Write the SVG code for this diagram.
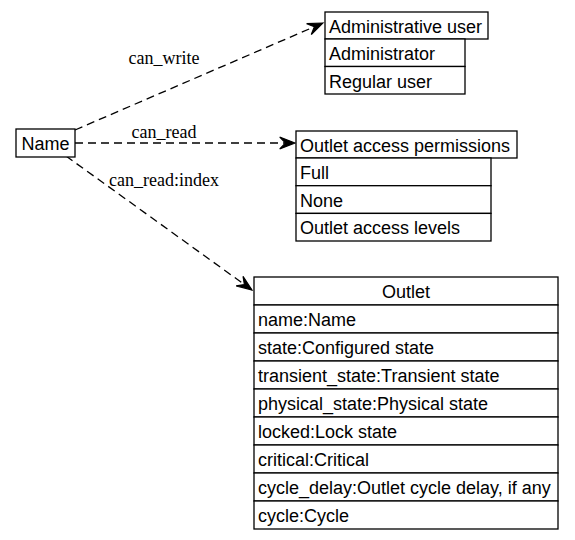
<svg xmlns="http://www.w3.org/2000/svg" width="575" height="540" viewBox="0 0 575 540">
<style>
  .box { fill: #ffffff; stroke: #000000; stroke-width: 1.3; }
  .t { font-family: "Liberation Sans", Arial, sans-serif; font-size: 18px; fill: #000000; }
  .lbl { font-family: "Liberation Serif", "Times New Roman", serif; font-size: 18px; fill: #000000; text-anchor: middle; }
  .edge { fill: none; stroke: #000000; stroke-width: 1.3; stroke-dasharray: 8,5; }
</style>
<defs>
  <marker id="vee" markerUnits="userSpaceOnUse" markerWidth="20" markerHeight="20" viewBox="-15 -8 17 16" refX="0" refY="0" orient="auto">
    <path d="M0,0 L-13,-5 L-8,0 L-13,5 Z" fill="#000000" stroke="#000000" stroke-width="1"/>
  </marker>
</defs>
<rect width="575" height="540" fill="#ffffff"/>

<g id="connectors">
  <g id="edge-can_write">
    <path class="edge" d="M75,130 L323,23" marker-end="url(#vee)"/>
    <text class="lbl" x="164" y="64">can_write</text>
  </g>
  <g id="edge-can_read">
    <path class="edge" d="M75,143 L295,143" marker-end="url(#vee)"/>
    <text class="lbl" x="164" y="138">can_read</text>
  </g>
  <g id="edge-can_read_index">
    <path class="edge" d="M66,156 L252,290" marker-end="url(#vee)"/>
    <text class="lbl" x="164" y="186">can_read:index</text>
  </g>
</g>

<g id="node-name">
  <rect class="box" x="16" y="129" width="59" height="28"/>
  <text class="t" x="45.5" y="150" text-anchor="middle">Name</text>
</g>

<g id="node-admin-user">
  <rect class="box" x="325" y="12" width="163" height="27"/>
  <text class="t" x="329" y="33">Administrative user</text>
  <rect class="box" x="325" y="39" width="140" height="27.5"/>
  <text class="t" x="329" y="60">Administrator</text>
  <rect class="box" x="325" y="66.5" width="140" height="27.5"/>
  <text class="t" x="329" y="88">Regular user</text>
</g>

<g id="node-outlet-access">
  <rect class="box" x="296" y="131" width="221" height="27"/>
  <text class="t" x="300" y="152">Outlet access permissions</text>
  <rect class="box" x="296" y="158" width="195" height="27.7"/>
  <text class="t" x="300" y="179">Full</text>
  <rect class="box" x="296" y="185.7" width="195" height="27.7"/>
  <text class="t" x="300" y="206.5">None</text>
  <rect class="box" x="296" y="213.4" width="195" height="27.6"/>
  <text class="t" x="300" y="234">Outlet access levels</text>
</g>

<g id="node-outlet">
  <rect class="box" x="254" y="277" width="304" height="28"/>
  <text class="t" x="406" y="298" text-anchor="middle">Outlet</text>
  <rect class="box" x="254" y="305" width="304" height="28"/>
  <text class="t" x="258" y="326">name:Name</text>
  <rect class="box" x="254" y="333" width="304" height="28"/>
  <text class="t" x="258" y="354">state:Configured state</text>
  <rect class="box" x="254" y="361" width="304" height="28"/>
  <text class="t" x="258" y="382">transient_state:Transient state</text>
  <rect class="box" x="254" y="389" width="304" height="28"/>
  <text class="t" x="258" y="410">physical_state:Physical state</text>
  <rect class="box" x="254" y="417" width="304" height="28"/>
  <text class="t" x="258" y="438">locked:Lock state</text>
  <rect class="box" x="254" y="445" width="304" height="28"/>
  <text class="t" x="258" y="466">critical:Critical</text>
  <rect class="box" x="254" y="473" width="304" height="28"/>
  <text class="t" x="258" y="494">cycle_delay:Outlet cycle delay, if any</text>
  <rect class="box" x="254" y="501" width="304" height="28"/>
  <text class="t" x="258" y="522">cycle:Cycle</text>
</g>
</svg>
